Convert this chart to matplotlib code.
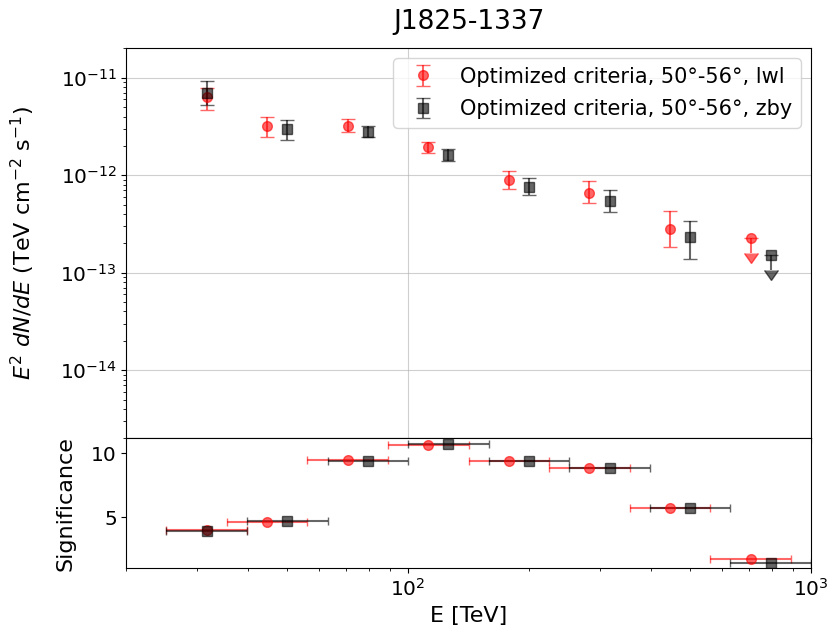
import numpy as np
import matplotlib
matplotlib.use('Agg')
import matplotlib.pyplot as plt

# energy bins (TeV)
lwl_E = [31.6, 44.7, 70.8, 112.2, 177.8, 281.8, 446.7, 707.9]
lwl_Elo = [25.1, 35.5, 56.2, 89.1, 141.3, 223.9, 354.8, 562.3]
lwl_Ehi = [39.8, 56.2, 89.1, 141.3, 223.9, 354.8, 562.3, 891.3]
zby_E = [31.6, 50.1, 79.4, 125.9, 199.5, 316.2, 501.2, 794.3]
zby_Elo = [25.1, 39.8, 63.1, 100.0, 158.5, 251.2, 398.1, 631.0]
zby_Ehi = [39.8, 63.1, 100.0, 158.5, 251.2, 398.1, 631.0, 1000.0]

# E^2 dN/dE (TeV cm-2 s-1), with lower / upper ends of the error bars
lwl_flux = [6.3e-12, 3.2e-12, 3.2e-12, 1.93e-12, 8.9e-13, 6.6e-13, 2.8e-13, 2.27e-13]
lwl_flux_lo = [4.7e-12, 2.47e-12, 2.79e-12, 1.69e-12, 7.3e-13, 5.15e-13, 1.83e-13, 1.6e-13]
lwl_flux_hi = [7.9e-12, 4.0e-12, 3.75e-12, 2.2e-12, 1.1e-12, 8.8e-13, 4.3e-13, 2.27e-13]
lwl_ul = [False, False, False, False, False, False, False, True]

zby_flux = [6.9e-12, 3.0e-12, 2.77e-12, 1.61e-12, 7.6e-13, 5.5e-13, 2.32e-13, 1.53e-13]
zby_flux_lo = [5.2e-12, 2.31e-12, 2.45e-12, 1.39e-12, 6.2e-13, 4.2e-13, 1.38e-13, 1.07e-13]
zby_flux_hi = [9.2e-12, 3.7e-12, 3.18e-12, 1.86e-12, 9.3e-13, 7.1e-13, 3.42e-13, 1.53e-13]
zby_ul = [False, False, False, False, False, False, False, True]

# significance per bin
lwl_sig = [4.0, 4.62, 9.51, 10.67, 9.38, 8.86, 5.73, 1.71]
zby_sig = [3.9, 4.72, 9.43, 10.7, 9.38, 8.88, 5.73, 1.45]

lwl_label = 'Optimized criteria, 50°-56°, lwl'
zby_label = 'Optimized criteria, 50°-56°, zby'


def yerrs(flux, lo, hi):
    flux, lo, hi = np.array(flux), np.array(lo), np.array(hi)
    return [flux - lo, hi - flux]


def xerrs(E, lo, hi):
    E, lo, hi = np.array(E), np.array(lo), np.array(hi)
    return [E - lo, hi - E]


fig = plt.figure(figsize=(8.31, 6.38), dpi=100)
ax1 = fig.add_axes([0.1522, 0.3130, 0.8238, 0.6118])
ax2 = fig.add_axes([0.1522, 0.1092, 0.8238, 0.2038], sharex=ax1)

ax1.errorbar(lwl_E, lwl_flux, yerr=yerrs(lwl_flux, lwl_flux_lo, lwl_flux_hi),
             uplims=lwl_ul, fmt='o', color='red', alpha=0.6, ms=7, capsize=5,
             label=lwl_label)
ax1.errorbar(zby_E, zby_flux, yerr=yerrs(zby_flux, zby_flux_lo, zby_flux_hi),
             uplims=zby_ul, fmt='s', color='black', alpha=0.6, ms=7, capsize=5,
             label=zby_label)
ax1.set_xscale('log')
ax1.set_yscale('log')
ax1.set_xlim(20, 1000)
ax1.set_ylim(2e-15, 2.02e-11)
ax1.grid(True, which='major', alpha=0.6)
ax1.set_ylabel(r'$E^2\ dN/dE$ (TeV cm$^{-2}$ s$^{-1}$)', fontsize=16)
ax1.yaxis.set_label_coords(-0.131, 0.5)
ax1.set_title('J1825-1337', fontsize=19, pad=14)
ax1.tick_params(labelsize=14.5, labelbottom=False)
ax1.legend(loc='upper right', fontsize=15, labelspacing=0.6)

ax2.errorbar(lwl_E, lwl_sig, xerr=xerrs(lwl_E, lwl_Elo, lwl_Ehi),
             fmt='o', color='red', alpha=0.6, ms=7, capsize=3)
ax2.errorbar(zby_E, zby_sig, xerr=xerrs(zby_E, zby_Elo, zby_Ehi),
             fmt='s', color='black', alpha=0.6, ms=7, capsize=3)
ax2.set_ylim(1.02, 11.17)
ax2.set_yticks([5, 10])
ax2.set_ylabel('Significance', fontsize=16)
ax2.yaxis.set_label_coords(-0.075, 0.5)
ax2.set_xlabel('E [TeV]', fontsize=16)
ax2.tick_params(labelsize=14.5)

fig.savefig('out.png', dpi=100)
